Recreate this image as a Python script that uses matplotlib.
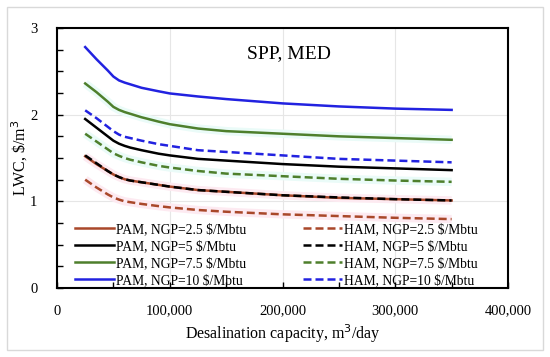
import numpy as np
import matplotlib
matplotlib.use("Agg")
import matplotlib.pyplot as plt
from matplotlib.patches import Rectangle
from matplotlib.ticker import MultipleLocator, FuncFormatter

plt.rcParams['font.family'] = ['Liberation Serif', 'DejaVu Serif']

# Desalination capacity, m3/day
capacity = [25000, 35000, 45000, 50000, 55000, 60000, 65000, 75000, 90000, 100000,
            125000, 150000, 200000, 250000, 300000, 350000]

# LWC, $/m3
pam_25 = [1.52, 1.43, 1.35, 1.31, 1.28, 1.255, 1.24, 1.22, 1.19, 1.17,
          1.13, 1.11, 1.07, 1.04, 1.025, 1.01]
pam_5 = [1.95, 1.85, 1.75, 1.70, 1.665, 1.64, 1.62, 1.59, 1.55, 1.53,
         1.49, 1.47, 1.43, 1.40, 1.38, 1.36]
pam_75 = [2.36, 2.26, 2.15, 2.09, 2.055, 2.03, 2.01, 1.97, 1.92, 1.89,
          1.84, 1.81, 1.78, 1.75, 1.73, 1.71]
pam_10 = [2.78, 2.64, 2.51, 2.44, 2.395, 2.37, 2.35, 2.31, 2.27, 2.245,
          2.21, 2.18, 2.13, 2.095, 2.07, 2.055]
ham_25 = [1.25, 1.16, 1.08, 1.045, 1.02, 1.00, 0.99, 0.97, 0.945, 0.93,
          0.90, 0.88, 0.85, 0.83, 0.81, 0.795]
ham_5 = [1.53, 1.44, 1.35, 1.31, 1.28, 1.255, 1.24, 1.22, 1.19, 1.17,
         1.13, 1.11, 1.07, 1.045, 1.025, 1.01]
ham_75 = [1.78, 1.69, 1.60, 1.555, 1.525, 1.50, 1.48, 1.45, 1.41, 1.39,
          1.35, 1.32, 1.29, 1.26, 1.24, 1.225]
ham_10 = [2.05, 1.96, 1.86, 1.81, 1.77, 1.745, 1.73, 1.70, 1.66, 1.64,
          1.59, 1.57, 1.53, 1.49, 1.47, 1.45]

labels_pam = ["PAM, NGP=2.5 $/Mbtu", "PAM, NGP=5 $/Mbtu",
              "PAM, NGP=7.5 $/Mbtu", "PAM, NGP=10 $/Mbtu"]
labels_ham = ["HAM, NGP=2.5 $/Mbtu", "HAM, NGP=5 $/Mbtu",
              "HAM, NGP=7.5 $/Mbtu", "HAM, NGP=10 $/Mbtu"]

colors = ["#A9482A", "#000000", "#4E7F2C", "#2222E0"]
glows = ["#FDEAF1", None, "#EAFBF8", None]

fig = plt.figure(figsize=(5.5, 3.57), dpi=100)
fig.patches.append(Rectangle((7/550, 7/357), 536/550, 343/357, transform=fig.transFigure,
                             fill=False, edgecolor="#d9d9d9", linewidth=1.0))
ax = fig.add_axes([57/550, 69/357, 451/550, 260/357])

pam = [pam_25, pam_5, pam_75, pam_10]
ham = [ham_25, ham_5, ham_75, ham_10]

# soft shadow under some lines
for vals, g in zip(pam + ham, glows + glows):
    if g is not None:
        ax.plot(capacity, vals, color=g, linewidth=6, solid_capstyle="butt", zorder=1)

h_pam = []
h_ham = []
for vals, c, lab in zip(pam, colors, labels_pam):
    l, = ax.plot(capacity, vals, color=c, linewidth=1.8, label=lab, zorder=3)
    h_pam.append(l)
for vals, c, lab in zip(ham, colors, labels_ham):
    l, = ax.plot(capacity, vals, color=c, linewidth=1.8, linestyle=(0, (3.2, 1.6)),
                 label=lab, zorder=4)
    h_ham.append(l)

ax.set_xlim(0, 400000)
ax.set_ylim(0, 3)
ax.xaxis.set_major_locator(MultipleLocator(100000))
ax.xaxis.set_minor_locator(MultipleLocator(50000))
ax.yaxis.set_major_locator(MultipleLocator(1))
ax.yaxis.set_minor_locator(MultipleLocator(0.25))
ax.xaxis.set_major_formatter(FuncFormatter(lambda v, p: "{:,.0f}".format(v)))
ax.tick_params(which="both", direction="in", length=4, width=1.0, labelsize=10.5)
ax.tick_params(axis="x", which="both", top=False, pad=12)
ax.tick_params(axis="y", which="both", right=False, pad=14)
ax.grid(which="major", color="#e6e6e6", linewidth=0.8)
ax.set_axisbelow(True)
for s in ax.spines.values():
    s.set_linewidth(1.5)

ax.set_xlabel("Desalination capacity, m$^3$/day", fontsize=11.5, labelpad=3)
ax.set_ylabel("LWC, \\$/m$^3$", fontsize=11.5, labelpad=0)
ax.text(0.514, 0.9, "SPP, MED", transform=ax.transAxes, ha="center", va="center", fontsize=14)

leg_kw = dict(loc="upper left", frameon=False, fontsize=9.8, handlelength=2.85,
              handletextpad=0.15, labelspacing=0.3, borderpad=0, borderaxespad=0)
leg1 = ax.legend(handles=h_pam, bbox_to_anchor=(0.04, 0.25), **leg_kw)
ax.add_artist(leg1)
ax.legend(handles=h_ham, bbox_to_anchor=(0.545, 0.25), **leg_kw)

fig.savefig("out.png", dpi=100)
